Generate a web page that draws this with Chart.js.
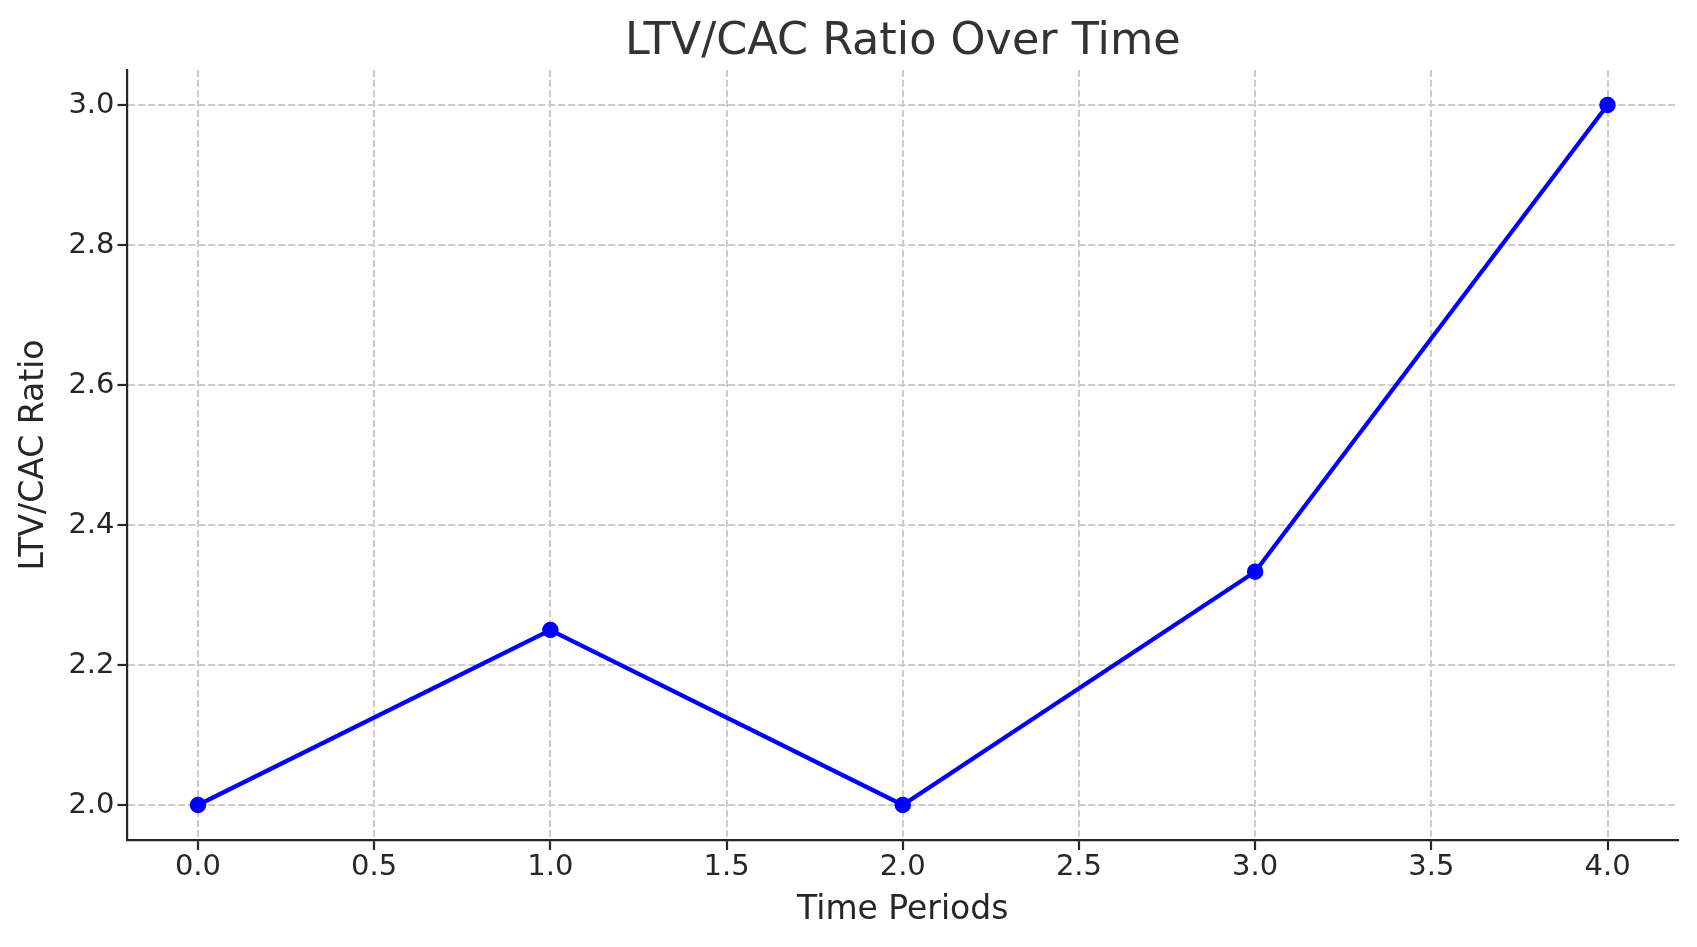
<!DOCTYPE html>
<html>
<head>
<meta charset="utf-8">
<script src="https://cdn.jsdelivr.net/npm/chart.js@4.4.1/dist/chart.umd.min.js"></script>
<style>
  html, body { margin: 0; padding: 0; background: #ffffff; }
  #wrap { width: 1697px; height: 947px; }
</style>
</head>
<body>
<div id="wrap"><canvas id="c" width="1697" height="947"></canvas></div>
<script>
const timePeriods = [0, 1, 2, 3, 4];
const ltvCacRatio = [2.0, 2.25, 2.0, 2.3333, 3.0];
const xTickValues = [0.0, 0.5, 1.0, 1.5, 2.0, 2.5, 3.0, 3.5, 4.0];
const yTickValues = [2.0, 2.2, 2.4, 2.6, 2.8, 3.0];
const chartTitle = 'LTV/CAC Ratio Over Time';
const xAxisLabel = 'Time Periods';
const yAxisLabel = 'LTV/CAC Ratio';

const points = timePeriods.map((t, i) => ({ x: t, y: ltvCacRatio[i] }));
const FONT = "'DejaVu Sans', sans-serif";
const TEXT = '#262626';

new Chart(document.getElementById('c'), {
  type: 'line',
  data: {
    datasets: [{
      data: points,
      borderColor: '#0000ff',
      backgroundColor: '#0000ff',
      borderWidth: 4.2,
      pointRadius: 7.5,
      pointBorderWidth: 1.5,
      pointBackgroundColor: '#0000ff',
      pointBorderColor: '#0000ff',
      tension: 0,
      fill: false
    }]
  },
  options: {
    responsive: false,
    animation: false,
    devicePixelRatio: 1,
    layout: { padding: { left: 0, right: 19, top: 0, bottom: 0 } },
    plugins: {
      legend: { display: false },
      tooltip: { enabled: false },
      title: {
        display: true,
        text: chartTitle,
        fullSize: false,
        color: '#333333',
        font: { family: FONT, size: 44.5, weight: 'normal', lineHeight: 1.2 },
        padding: { top: 15.5, bottom: 1.1 }
      }
    },
    scales: {
      x: {
        type: 'linear',
        min: -0.2,
        max: 4.2,
        afterBuildTicks: (scale) => { scale.ticks = xTickValues.map(v => ({ value: v })); },
        afterFit: (scale) => { scale.height = 107; },
        ticks: {
          color: TEXT,
          font: { family: FONT, size: 29 },
          padding: 0,
          maxRotation: 0,
          autoSkip: false,
          callback: (v) => Number(v).toFixed(1)
        },
        grid: {
          color: '#cccccc',
          lineWidth: 2,
          drawTicks: true,
          tickLength: 10,
          tickColor: TEXT,
          tickWidth: 2.2,
          tickBorderDash: []
        },
        border: { display: true, color: TEXT, width: 2.2, dash: [7, 3] },
        title: {
          display: true,
          text: xAxisLabel,
          color: TEXT,
          font: { family: FONT, size: 33, lineHeight: 1.2 },
          padding: { top: 0, bottom: 17 }
        }
      },
      y: {
        type: 'linear',
        min: 1.95,
        max: 3.05,
        afterBuildTicks: (scale) => { scale.ticks = yTickValues.map(v => ({ value: v })); },
        afterFit: (scale) => { scale.width = 127.5; },
        ticks: {
          color: TEXT,
          font: { family: FONT, size: 29 },
          padding: 3,
          autoSkip: false,
          callback: (v) => Number(v).toFixed(1)
        },
        grid: {
          color: '#cccccc',
          lineWidth: 2,
          drawTicks: true,
          tickLength: 10,
          tickColor: TEXT,
          tickWidth: 2.2,
          tickBorderDash: []
        },
        border: { display: true, color: TEXT, width: 2.2, dash: [7, 3] },
        title: {
          display: true,
          text: yAxisLabel,
          color: TEXT,
          font: { family: FONT, size: 33, lineHeight: 1.2 },
          padding: { top: 14.5, bottom: 0 }
        }
      }
    }
  }
});
</script>
</body>
</html>
